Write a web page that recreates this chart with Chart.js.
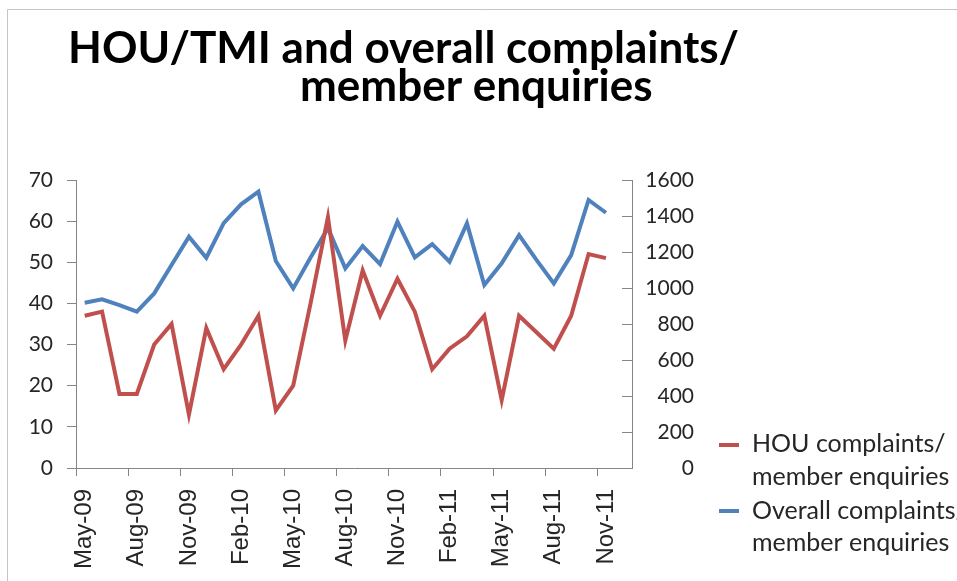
<!DOCTYPE html>
<html>
<head>
<meta charset="utf-8">
<title>HOU/TMI and overall complaints / member enquiries</title>
<script src="https://cdn.jsdelivr.net/npm/chart.js@4.4.1/dist/chart.umd.min.js"></script>
<style>
  html, body { margin: 0; padding: 0; background: #fff; }
  #wrap { position: relative; width: 957px; height: 581px; }
</style>
</head>
<body>
<div id="wrap"><canvas id="chart" width="957" height="581"></canvas></div>
<script>
/* ---- data ---- */
const months = [
    'May-09', 'Jun-09', 'Jul-09', 'Aug-09', 'Sep-09', 'Oct-09', 'Nov-09', 'Dec-09',
    'Jan-10', 'Feb-10', 'Mar-10', 'Apr-10', 'May-10', 'Jun-10', 'Jul-10', 'Aug-10',
    'Sep-10', 'Oct-10', 'Nov-10', 'Dec-10', 'Jan-11', 'Feb-11', 'Mar-11', 'Apr-11',
    'May-11', 'Jun-11', 'Jul-11', 'Aug-11', 'Sep-11', 'Oct-11', 'Nov-11', 'Dec-11'
];

// HOU complaints / member enquiries (left axis)
const houComplaints = [
    37, 38, 18, 18, 30, 35, 13, 34,
    24, 30, 37, 14, 20, 40, 61, 31,
    48, 37, 46, 38, 24, 29, 32, 37,
    16.5, 37, 33, 29, 37, 52, 51, null
];

// Overall complaints / member enquiries (right axis)
const overallComplaints = [
    918, 937, 905, 869, 970, 1128, 1285, 1168,
    1360, 1465, 1535, 1150, 998, 1170, 1332, 1109,
    1233, 1133, 1369, 1170, 1244, 1146, 1359, 1017,
    1137, 1294, 1156, 1026, 1183, 1489, 1418, null
];

const leftAxisTicks = [0, 10, 20, 30, 40, 50, 60, 70];
const rightAxisTicks = [0, 200, 400, 600, 800, 1000, 1200, 1400, 1600];

const seriesNames = [
    ['HOU complaints/', 'member enquiries'],
    ['Overall complaints/', 'member enquiries']
];
const titleLines = ['HOU/TMI and overall complaints/', 'member enquiries'];

const RED = '#C0504D';
const BLUE = '#4F81BD';
const AXIS = '#868686';
const TEXT = '#262626';

/* ---- title, legend, inner ticks of the right axis ---- */
const decor = {
    id: 'decor',
    beforeDraw(chart) {
        const ctx = chart.ctx;
        ctx.save();
        ctx.fillStyle = '#fff';
        ctx.fillRect(0, 0, chart.width, chart.height);
        // chart frame (top + left edge)
        ctx.strokeStyle = '#c4c4c4';
        ctx.lineWidth = 1;
        ctx.beginPath();
        ctx.moveTo(7.5, chart.height);
        ctx.lineTo(7.5, 9.5);
        ctx.lineTo(chart.width, 9.5);
        ctx.stroke();
        ctx.restore();
    },
    afterDraw(chart) {
        const ctx = chart.ctx;
        ctx.save();

        // title
        ctx.fillStyle = '#000';
        ctx.font = 'bold 44px Lato';
        ctx.textBaseline = 'alphabetic';
        ctx.textAlign = 'left';
        ctx.fillText(titleLines[0], 68, 63);
        ctx.fillText(titleLines[1], 300, 101);

        // right axis: tick marks point inwards
        const y1 = chart.scales.y1;
        ctx.strokeStyle = AXIS;
        ctx.lineWidth = 1;
        y1.ticks.forEach(t => {
            const py = Math.round(y1.getPixelForValue(t.value)) + 0.5;
            ctx.beginPath();
            ctx.moveTo(y1.left - 10, py);
            ctx.lineTo(y1.left, py);
            ctx.stroke();
        });

        // legend
        const items = [
            { markY: 445, base: [452, 485] },
            { markY: 511, base: [519, 551] }
        ];
        ctx.font = '25px Lato';
        ctx.fillStyle = TEXT;
        chart.data.datasets.forEach((ds, i) => {
            const it = items[i];
            ctx.strokeStyle = ds.borderColor;
            ctx.lineWidth = 4;
            ctx.beginPath();
            ctx.moveTo(719, it.markY);
            ctx.lineTo(739, it.markY);
            ctx.stroke();
            seriesNames[i].forEach((line, j) => ctx.fillText(line, 752, it.base[j]));
        });

        ctx.restore();
    }
};

new Chart(document.getElementById('chart'), {
    type: 'line',
    data: {
        labels: months,
        datasets: [
            {
                label: seriesNames[0].join(' '),
                data: houComplaints,
                borderColor: RED,
                backgroundColor: RED,
                borderWidth: 4,
                pointRadius: 0,
                tension: 0,
                yAxisID: 'y'
            },
            {
                label: seriesNames[1].join(' '),
                data: overallComplaints,
                borderColor: BLUE,
                backgroundColor: BLUE,
                borderWidth: 4,
                pointRadius: 0,
                tension: 0,
                yAxisID: 'y1'
            }
        ]
    },
    options: {
        responsive: false,
        animation: false,
        devicePixelRatio: 1,
        layout: {
            // right padding leaves room for the hand-drawn legend
            padding: { top: 180, left: 0, right: 263, bottom: 0 }
        },
        plugins: {
            legend: { display: false },
            title: { display: false },
            tooltip: { enabled: false }
        },
        scales: {
            x: {
                offset: true,
                afterFit: (s) => { s.height = 113; },
                grid: {
                    offset: true,
                    drawOnChartArea: false,
                    tickLength: 8,
                    color: (c) => (c.index % 3 === 0 ? AXIS : 'rgba(0,0,0,0)')
                },
                border: { display: true, color: AXIS, width: 1 },
                ticks: {
                    autoSkip: false,
                    maxRotation: 90,
                    minRotation: 90,
                    padding: 13,
                    color: TEXT,
                    font: { family: 'Liberation Sans', size: 24 },
                    callback: (v, i) => (i % 3 === 0 ? months[i] : '')
                }
            },
            y: {
                position: 'left',
                min: leftAxisTicks[0],
                max: leftAxisTicks[leftAxisTicks.length - 1],
                afterFit: (s) => { s.width = 76; },
                afterBuildTicks: (s) => { s.ticks = leftAxisTicks.map(v => ({ value: v })); },
                grid: {
                    drawOnChartArea: false,
                    tickLength: 9,
                    color: AXIS
                },
                border: { display: true, color: AXIS, width: 1 },
                ticks: {
                    padding: 14,
                    color: TEXT,
                    font: { family: 'Lato', size: 21 }
                }
            },
            y1: {
                position: 'right',
                min: rightAxisTicks[0],
                max: rightAxisTicks[rightAxisTicks.length - 1],
                afterFit: (s) => { s.width = 62; },
                afterBuildTicks: (s) => { s.ticks = rightAxisTicks.map(v => ({ value: v })); },
                grid: {
                    drawOnChartArea: false,
                    drawTicks: false
                },
                border: { display: true, color: AXIS, width: 1 },
                ticks: {
                    padding: 11,
                    crossAlign: 'far',
                    color: TEXT,
                    font: { family: 'Lato', size: 21 },
                    callback: (v) => String(v)
                }
            }
        }
    },
    plugins: [decor]
});
</script>
</body>
</html>
